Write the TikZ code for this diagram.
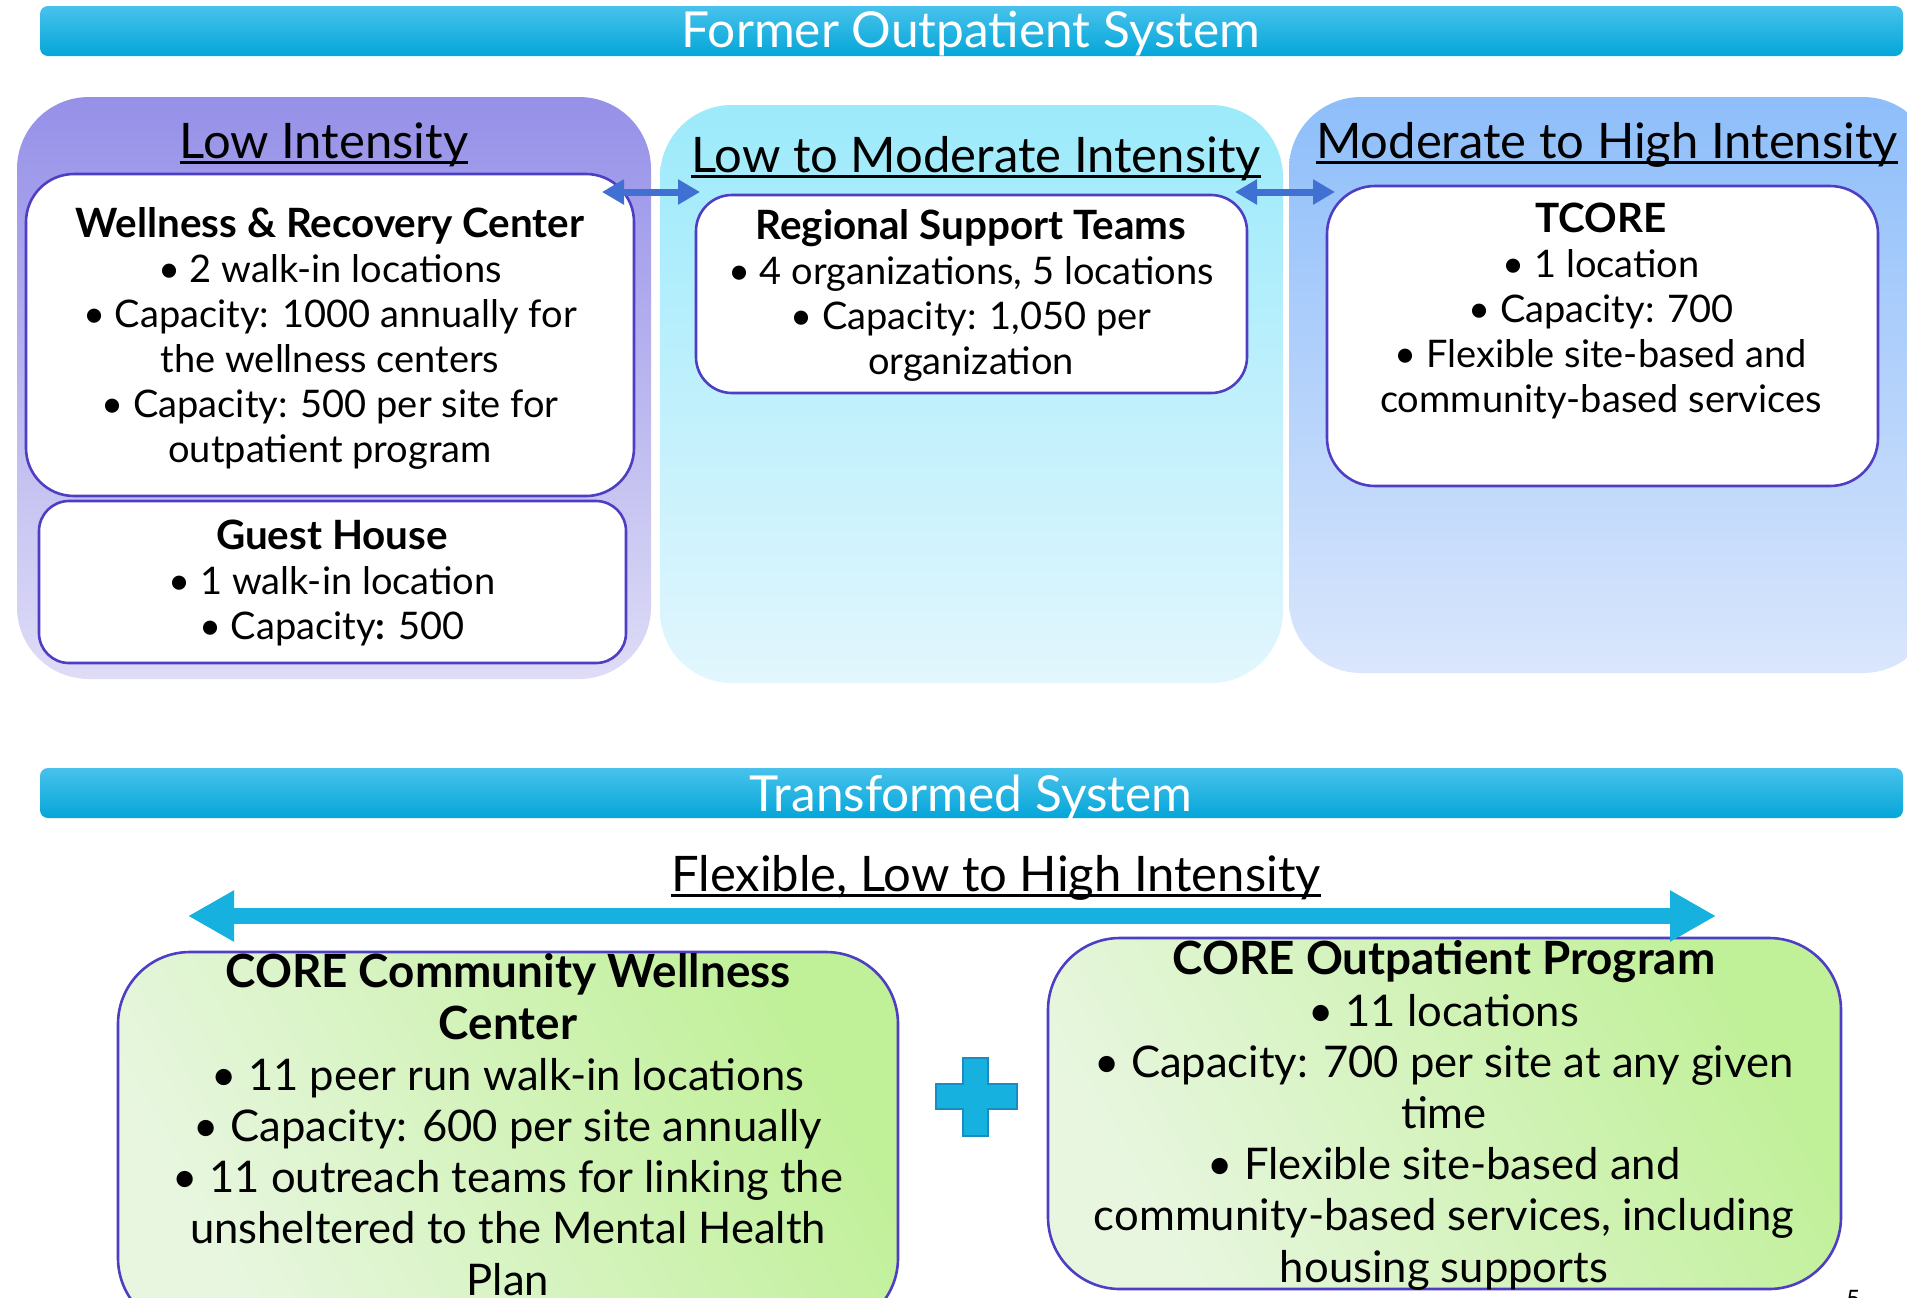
\documentclass[tikz,border=0pt]{standalone}
\usepackage{fontspec}
\setmainfont{Lato}
\usetikzlibrary{arrows.meta,positioning}

\definecolor{barTop}{RGB}{72,194,236}
\definecolor{barBot}{RGB}{4,166,216}
\definecolor{lowTop}{RGB}{150,144,232}
\definecolor{lowBot}{RGB}{222,220,246}
\definecolor{midTop}{RGB}{156,234,251}
\definecolor{midBot}{RGB}{226,246,253}
\definecolor{highTop}{RGB}{142,190,250}
\definecolor{highBot}{RGB}{218,230,252}
\definecolor{edge}{RGB}{78,62,196}
\definecolor{linkBlue}{RGB}{64,112,210}
\definecolor{spanBlue}{RGB}{22,177,222}
\definecolor{plusEdge}{RGB}{24,140,196}
\definecolor{greenLo}{RGB}{232,246,224}
\definecolor{greenHi}{RGB}{192,240,152}

\newcommand\uln[1]{\setbox0\hbox{#1}\rlap{\rule[-2.8pt]{\wd0}{1.1pt}}\box0}
\newcommand\boxtitle[2]{{\fontsize{#1}{#1}\selectfont\bfseries #2}}

\begin{document}
\begin{tikzpicture}[x=0.5pt,y=-0.5pt,
		Bar/.style={rectangle,rounded corners=4pt,top color=barTop,bottom color=barBot,inner sep=0pt,outer sep=0pt,minimum width=931.5pt,minimum height=25pt},
		BarText/.style={text=white,inner sep=0pt,font=\fontsize{24.8}{28}\selectfont},
		Panel/.style={rectangle,rounded corners=36pt,inner sep=0pt,outer sep=0pt},
		Head/.style={inner sep=0pt,font=\fontsize{24.5}{28}\selectfont},
		Box/.style={rectangle,draw=edge,line width=1.3pt,fill=white,inner sep=0pt,outer sep=0pt},
		GreenBox/.style={rectangle,rounded corners=36pt,draw=edge,line width=1.3pt,left color=greenLo,right color=greenHi,shading angle=120,inner sep=0pt,outer sep=0pt},
		Body/.style={align=center,inner sep=0pt,font=\fontsize{19}{22.5}\selectfont},
		BigBody/.style={align=center,inner sep=0pt,font=\fontsize{21.8}{25.6}\selectfont},
		Arrow/.style={{Triangle[length=11pt,width=12pt]}-{Triangle[length=11pt,width=12pt]},line width=3.5pt,draw=linkBlue},
		Span/.style={{Triangle[length=23pt,width=24pt]}-{Triangle[length=23pt,width=24pt]},line width=8pt,draw=spanBlue}]
		\useasboundingbox (0,0) rectangle (1907,1297);
		% banners
		\node[Bar] (FormerBar) at (971.5,31) {};
		\node[BarText,anchor=base] (FormerTitle) at (971,47) {Former Outpatient System};
		\node[Bar] (NewBar) at (971.5,793) {};
		\node[BarText,anchor=base] (NewTitle) at (971,811) {Transformed System};
		% panels
		\node[Panel,top color=lowTop,bottom color=lowBot,minimum width=317pt,minimum height=291pt] (LowPanel) at (334,388) {};
		\node[Panel,top color=midTop,bottom color=midBot,minimum width=311.5pt,minimum height=289pt] (MidPanel) at (971.5,394) {};
		\node[Panel,top color=highTop,bottom color=highBot,minimum width=323pt,minimum height=288pt] (HighPanel) at (1612,385) {};
		\node[Head,anchor=base] (LowHead) at (324,158) {\uln{Low Intensity}};
		\node[Head,anchor=base] (MidHead) at (976,172) {\uln{Low to Moderate Intensity}};
		\node[Head,anchor=base] (HighHead) at (1607,158) {\uln{Moderate to High Intensity}};
		% boxes
		\node[Box,rounded corners=24pt,minimum width=304pt,minimum height=161pt] (WRC) at (330,335) {};
		\node[Box,rounded corners=15pt,minimum width=293.5pt,minimum height=81pt] (Guest) at (332.5,582) {};
		\node[Box,rounded corners=18pt,minimum width=275.5pt,minimum height=99pt] (RST) at (971.5,294) {};
		\node[Box,rounded corners=24pt,minimum width=275.5pt,minimum height=150pt] (TCORE) at (1602.5,336) {};
		% text (anchored on the last line)
		\node[Body,anchor=base] (WRCText) at (330,462) {\boxtitle{20.2}{Wellness \& Recovery Center}\\
			• 2 walk-in locations\\
			• Capacity: 1000 annually for\\
			the wellness centers\\
			• Capacity: 500 per site for\\
			outpatient program};
		\node[Body,anchor=base] (GuestText) at (332,639) {\boxtitle{20.2}{Guest House}\\
			• 1 walk-in location\\
			• Capacity\textbf{:} 500};
		\node[Body,anchor=base] (RSTText) at (971,374) {\boxtitle{20.2}{Regional Support Teams}\\
			• 4 organizations, 5 locations\\
			• Capacity: 1,050 per\\
			organization};
		\node[Body,anchor=base] (TCOREText) at (1601,412) {\boxtitle{20.2}{TCORE}\\
			• 1 location\\
			• Capacity: 700\\
			• Flexible site-based and\\
			community-based services};
		% transformed system
		\node[Head,anchor=base] (FlexHead) at (996,891) {\uln{Flexible, Low to High Intensity}};
		\node[GreenBox,minimum width=390pt,minimum height=189pt] (CCWC) at (508,1141) {};
		\node[GreenBox,minimum width=396.5pt,minimum height=175.5pt] (COP) at (1444.5,1113.5) {};
		\node[BigBody,anchor=base] (CCWCText) at (508,1295) {\boxtitle{22.9}{CORE Community Wellness}\\
			\boxtitle{22.9}{Center}\\
			• 11 peer run walk-in locations\\
			• Capacity: 600 per site annually\\
			• 11 outreach teams for linking the\\
			unsheltered to the Mental Health\\
			Plan};
		\node[BigBody,anchor=base] (COPText) at (1444,1282) {\boxtitle{22.9}{CORE Outpatient Program}\\
			• 11 locations\\
			• Capacity: 700 per site at any given\\
			time\\
			• Flexible site-based and\\
			community-based services, including\\
			housing supports};
		% plus sign
		\draw[fill=spanBlue,draw=plusEdge,line width=0.8pt] (963,1058) -- (988,1058) -- (988,1084) -- (1017,1084) -- (1017,1109)
			-- (988,1109) -- (988,1136) -- (963,1136) -- (963,1109) -- (936,1109) -- (936,1084) -- (963,1084) -- cycle;
		\node[inner sep=0pt,anchor=north west,font=\fontsize{12}{14}\selectfont] (PageNo) at (1846,1290) {5};
		% connections
		\coordinate (WRCLink) at (602,192);
		\coordinate (RSTLinkL) at (700,192);
		\coordinate (RSTLinkR) at (1235,192);
		\coordinate (TCORELink) at (1335,192);
		\coordinate (FlexL) at (188,916);
		\coordinate (FlexR) at (1716,916);
		\draw[Arrow] (WRCLink) -- (RSTLinkL);
		\draw[Arrow] (RSTLinkR) -- (TCORELink);
		\draw[Span] (FlexL) -- (FlexR);
	\end{tikzpicture}
\end{document}
